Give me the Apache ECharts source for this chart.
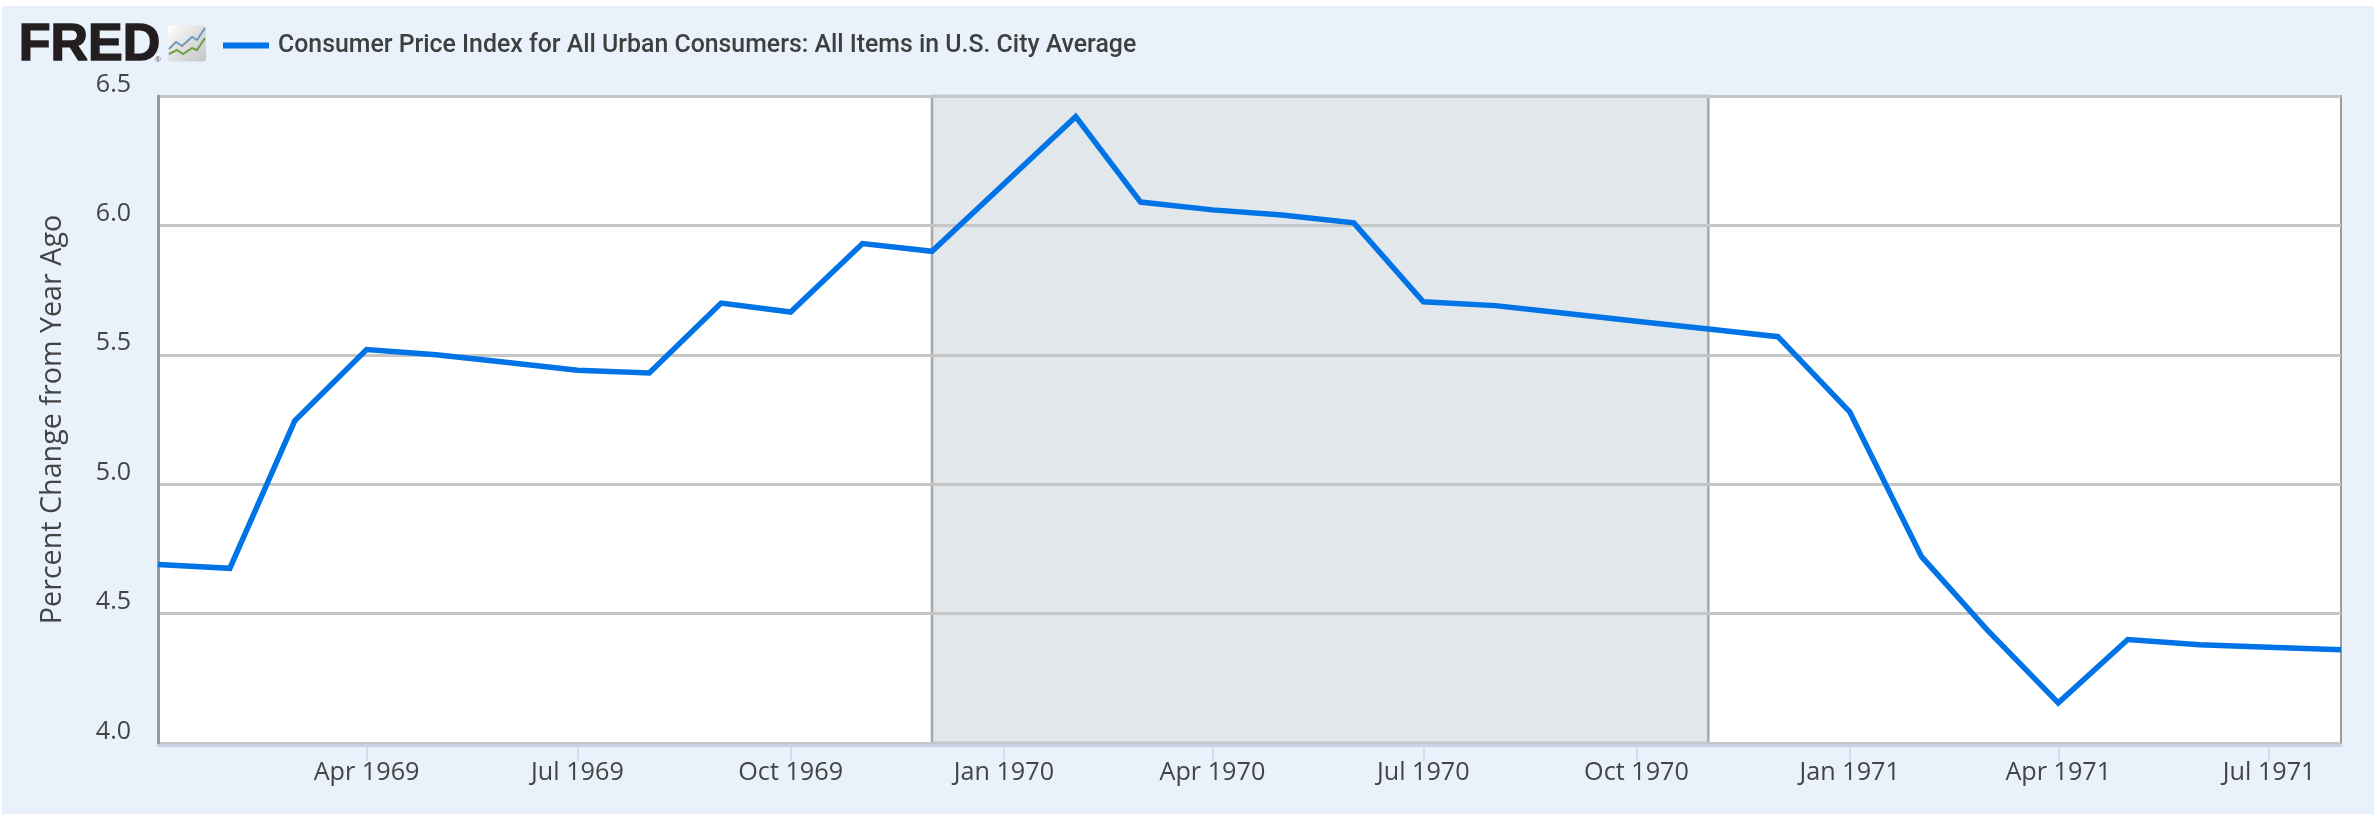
<!DOCTYPE html>
<html>
<head>
<meta charset="utf-8">
<script src="https://cdn.jsdelivr.net/npm/echarts@6/dist/echarts.min.js"></script>
<style>
html,body{margin:0;padding:0;background:#fff;width:2374px;height:814px;overflow:hidden}
#bg{position:absolute;left:2px;top:6px;width:2372px;height:808px;background:#e9f1fb}
#main{position:absolute;left:0;top:0;width:2374px;height:814px}
</style>
</head>
<body>
<div id="bg"></div>
<div id="main"></div>
<script>
const seriesName = 'Consumer Price Index for All Urban Consumers: All Items in U.S. City Average';
const yAxisTitle = 'Percent Change from Year Ago';
const months = ['1969-01','1969-02','1969-03','1969-04','1969-05','1969-06','1969-07','1969-08','1969-09','1969-10','1969-11','1969-12',
  '1970-01','1970-02','1970-03','1970-04','1970-05','1970-06','1970-07','1970-08','1970-09','1970-10','1970-11','1970-12',
  '1971-01','1971-02','1971-03','1971-04','1971-05','1971-06','1971-07','1971-08'];
const cpiChange = [4.69,4.675,5.245,5.52,5.50,5.47,5.44,5.43,5.70,5.665,5.93,5.90,
  6.16,6.42,6.09,6.06,6.04,6.01,5.705,5.69,5.66,5.63,5.60,5.57,
  5.28,4.72,4.44,4.155,4.40,4.38,4.37,4.36];
const tickMonths = ['1969-04','1969-07','1969-10','1970-01','1970-04','1970-07','1970-10','1971-01','1971-04','1971-07'];
const tickLabels = ['Apr 1969','Jul 1969','Oct 1969','Jan 1970','Apr 1970','Jul 1970','Oct 1970','Jan 1971','Apr 1971','Jul 1971'];
const recessionStart = '1969-12';
const recessionEnd = '1970-11';

const toTime = m => { const p = m.split('-'); return Date.UTC(+p[0], +p[1]-1, 1); };
const tickTimes = tickMonths.map(toTime);
const chart = echarts.init(document.getElementById('main'), null, {renderer:'canvas'});
const labelFont = '"Open Sans"';
chart.setOption({
  animation:false,
  backgroundColor:'transparent',
  grid:{left:158,right:33,top:96,bottom:71,show:true,backgroundColor:'#fff',borderColor:'#9c9c9c',borderWidth:2},
  legend:{
    data:[seriesName],left:218,top:28,itemWidth:46,itemHeight:6,icon:'rect',itemGap:0,
    textStyle:{fontFamily:'Roboto',fontWeight:500,fontSize:24.85,color:'#3f3f3f',padding:[0,0,0,4]}
  },
  xAxis:{
    type:'value',min:toTime('1969-01'),max:toTime('1971-08'),z:3,offset:2,
    splitLine:{show:false},
    axisLine:{show:true,lineStyle:{color:'#c6d3e6',width:3}},
    axisTick:{show:true,customValues:tickTimes,length:16,lineStyle:{color:'#ccd6eb',width:1.5}},
    axisLabel:{
      customValues:tickTimes,margin:15,hideOverlap:false,showMinLabel:true,showMaxLabel:true,
      fontFamily:labelFont,fontSize:25.2,color:'#444',
      formatter:v=>tickLabels[tickTimes.indexOf(v)]||''
    }
  },
  yAxis:{
    type:'value',min:4,max:6.5,interval:0.5,z:3,
    name:yAxisTitle,nameLocation:'middle',nameGap:91,
    nameTextStyle:{fontFamily:labelFont,fontSize:28.7,color:'#444'},
    axisLine:{show:true,onZero:false,lineStyle:{color:'#999',width:3}},
    axisTick:{show:false},
    splitLine:{show:true,lineStyle:{color:'#c6c6c6',width:3}},
    axisLabel:{margin:27,fontFamily:labelFont,fontSize:25,color:'#444',verticalAlign:'bottom',lineHeight:23,
      formatter:v=>v.toFixed(1)}
  },
  series:[
    {name:'Recession',type:'line',data:[],z:1,silent:true,
      markArea:{silent:true,itemStyle:{color:'#e2e7ec',borderColor:'#a8a8a8',borderWidth:2.5},
        data:[[{xAxis:toTime(recessionStart)},{xAxis:toTime(recessionEnd)}]]}},
    {name:seriesName,type:'line',z:6,showSymbol:false,symbol:'none',
      data:months.map((m,i)=>[toTime(m),cpiChange[i]]),
      itemStyle:{color:'#0073e6'},
      lineStyle:{color:'#0073e6',width:5.5,join:'miter'}}
  ],
  graphic:[
    {type:'text',left:18,top:19,z:10,style:{text:'FRED',font:'900 52px "Liberation Sans"',fill:'#231f20',stroke:'#231f20',lineWidth:1.5}},
    {type:'text',left:155,top:56,z:10,style:{text:'®',font:'8px "Liberation Sans"',fill:'#555'}},
    {type:'rect',z:10,shape:{x:168,y:25.5,width:38,height:36,r:3},
      style:{fill:new echarts.graphic.LinearGradient(0,0,1,1,[{offset:0,color:'#ffffff'},{offset:0.55,color:'#dcdcdc'},{offset:1,color:'#c4c6c8'}])}},
    {type:'polyline',z:11,shape:{points:[[169,49],[176,42],[182,46],[192,37],[197,40],[205,28]]},style:{fill:'none',stroke:'#6f9bbb',lineWidth:2}},
    {type:'polyline',z:11,shape:{points:[[169,54],[177,50],[183,54],[192,48],[197,50],[205,38]]},style:{fill:'none',stroke:'#6d9f43',lineWidth:2}}
  ]
});
</script>
</body>
</html>
